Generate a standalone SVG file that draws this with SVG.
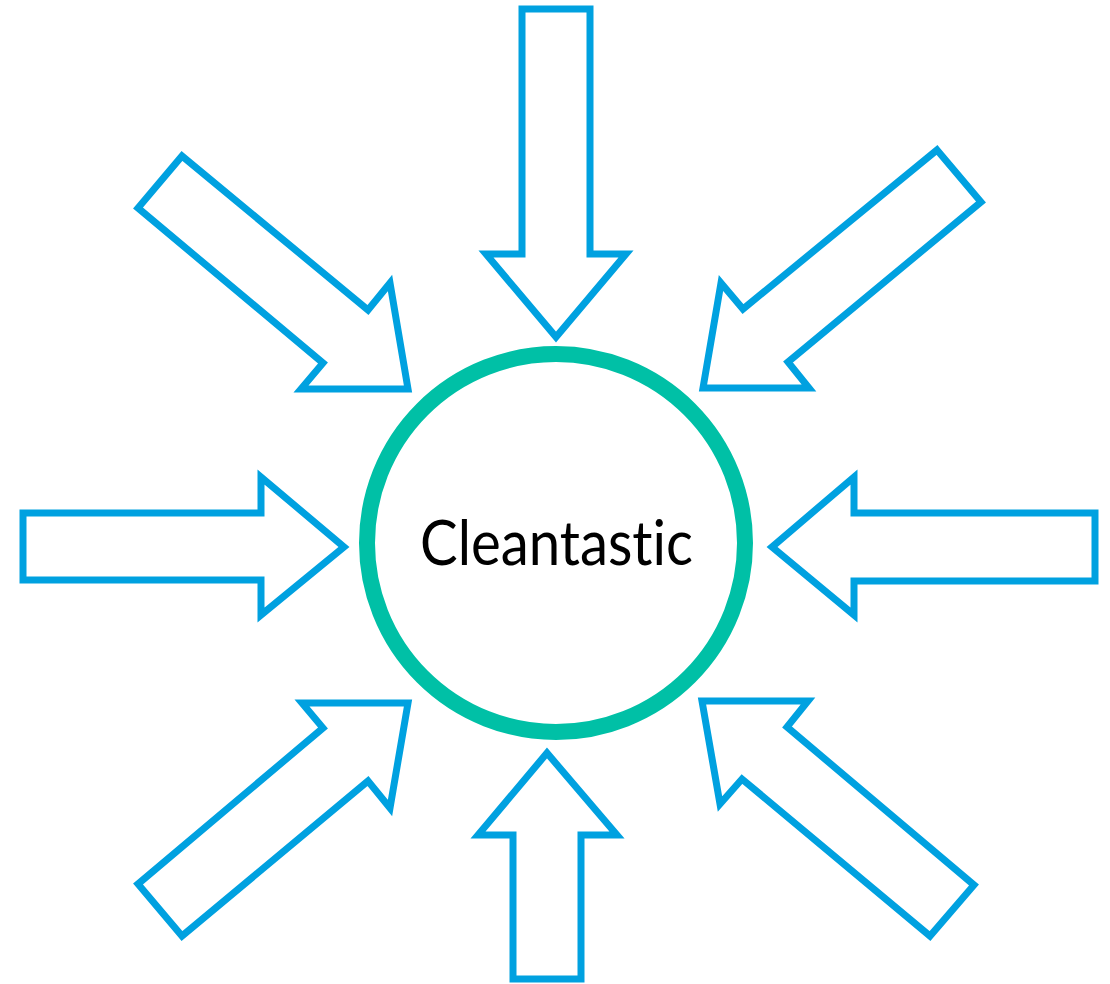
<svg xmlns="http://www.w3.org/2000/svg" width="1110" height="984" viewBox="0 0 1110 984">
<style>
.arrow{fill:#ffffff;stroke:#00A1E0;stroke-width:7;stroke-linejoin:miter;stroke-miterlimit:10}
.hub{fill:#ffffff;stroke:#00C0A6;stroke-width:16}
.label{font-family:Lato,"Open Sans","Liberation Sans",sans-serif;font-size:61px;fill:#000000;font-variant-ligatures:none;font-feature-settings:"liga" 0,"dlig" 0}
</style>
<rect width="1110" height="984" fill="#ffffff"/>
<g id="connectors">
<polygon id="arrow-top" class="arrow" points="522,9 590,9 590,254 626,254 556,337 486,254 522,254"/>
<polygon id="arrow-top-left" class="arrow" points="182,156 368,310 390,283 408,389 301,389 323,363 138,208"/>
<polygon id="arrow-top-right" class="arrow" points="937,150 981,202 788,362 809,388 703,388 721,283 743,309"/>
<polygon id="arrow-left" class="arrow" points="23,513 261,513 261,477 344,547 261,615 261,580 23,580"/>
<polygon id="arrow-right" class="arrow" points="1095,513 854,513 854,477 772,547 854,615 854,581 1095,581"/>
<polygon id="arrow-bottom-left" class="arrow" points="138,884 323,728 302,703 408,703 390,808 368,781 182,936"/>
<polygon id="arrow-bottom-right" class="arrow" points="974,885 787,727 808,701 702,701 720,804 742,779 930,936"/>
<polygon id="arrow-bottom" class="arrow" points="513,979 581,979 581,835 617,835 547,753 478,835 513,835"/>
</g>
<g id="hub">
<circle class="hub" cx="556" cy="543" r="189"/>
<text class="label" x="556.5" y="565" text-anchor="middle" textLength="273" lengthAdjust="spacingAndGlyphs">Cleantastic</text>
</g>
</svg>
